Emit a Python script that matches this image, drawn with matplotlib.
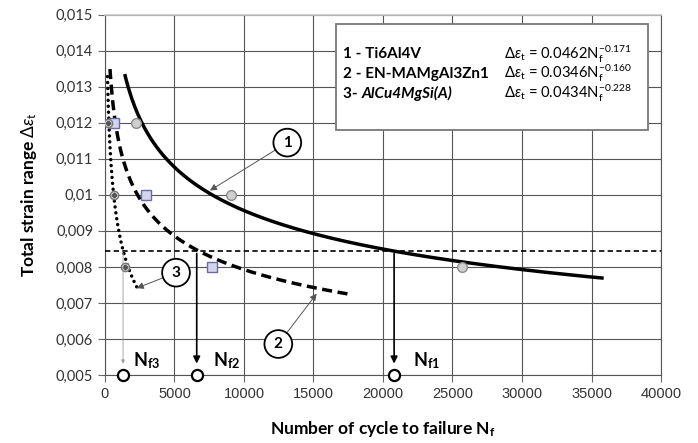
import numpy as np
import matplotlib
matplotlib.use("Agg")
import matplotlib.pyplot as plt
from matplotlib.patches import Rectangle

plt.rcParams['font.family'] = ['Lato', 'DejaVu Sans']
plt.rcParams['mathtext.fontset'] = 'custom'
plt.rcParams['mathtext.rm'] = 'Lato'
plt.rcParams['mathtext.it'] = 'Lato:italic'
plt.rcParams['mathtext.bf'] = 'Lato:bold'

# fitted curves: delta_eps = a * N^b (values from the legend box)
coef_a = [0.0462, 0.0346, 0.0434]
coef_b = [-0.171, -0.160, -0.228]
n_start = [1450, 360, 180]
n_end = [35750, 17750, 2400]

# test points
ti_n = [2230, 9060, 25700]
ti_eps = [0.012, 0.010, 0.008]
mg_n = [670, 2950, 7680]
mg_eps = [0.012, 0.010, 0.008]
al_n = [240, 650, 1440]
al_eps = [0.012, 0.010, 0.008]

# strain level used for comparison and resulting lives
eps_level = 0.00845
nf_values = [20800, 6600, 1300]
nf_names = [r"$\mathbf{N}_\mathbf{f1}$", r"$\mathbf{N}_\mathbf{f2}$", r"$\mathbf{N}_\mathbf{f3}$"]

yticks = [0.005, 0.006, 0.007, 0.008, 0.009, 0.01, 0.011, 0.012, 0.013, 0.014, 0.015]
ytick_labels = ["0,005", "0,006", "0,007", "0,008", "0,009", "0,01",
                "0,011", "0,012", "0,013", "0,014", "0,015"]
xticks = [0, 5000, 10000, 15000, 20000, 25000, 30000, 35000, 40000]

fig = plt.figure(figsize=(6.98, 4.43), dpi=100)
ax = fig.add_axes([0.1504, 0.1535, 0.7966, 0.8133])
ax.set_xlim(0, 40000)
ax.set_ylim(0.005, 0.015)

ax.set_yticks(yticks)
ax.set_yticklabels(ytick_labels, fontsize=10.5, color="#333333")
ax.set_xticks(xticks)
ax.set_xticklabels([str(x) for x in xticks], fontsize=10.5, color="#333333",
                   family=["Liberation Sans"])
ax.tick_params(axis="both", direction="out", length=5, width=0.8, color="#666666")
ax.grid(True, color="#555555", lw=0.8)
ax.set_axisbelow(True)
for s in ["left", "bottom", "right"]:
    ax.spines[s].set_color("#555555")
    ax.spines[s].set_linewidth(0.8)
ax.spines["top"].set_color("#c8c8c8")
ax.spines["top"].set_linewidth(1.2)

# horizontal reference strain
ax.plot([0, 40000], [eps_level, eps_level], color="black", lw=1.2,
        dashes=(3.2, 2), zorder=3)

# curves
styles = [dict(ls="-"),
          dict(dashes=(2.9, 1.6)),
          dict(ls=(0, (0.01, 1.7)), dash_capstyle="round")]
for a, b, n0, n1, st in zip(coef_a, coef_b, n_start, n_end, styles):
    n = np.linspace(n0, n1, 300)
    ax.plot(n, a * n ** b, color="black", lw=2.5, zorder=4, **st)

# test points
ax.plot(ti_n, ti_eps, "o", ms=7, mfc="#cfcfcf", mec="#8a8a8a", mew=1, zorder=5)
ax.plot(mg_n, mg_eps, "s", ms=7, mfc="#d4d4ee", mec="#6a6aaa", mew=1, zorder=5)
ax.plot(al_n, al_eps, "o", ms=6, mfc="#e0e0e0", mec="#777777", mew=1, zorder=5)
ax.plot(al_n, al_eps, "D", ms=2.5, mfc="#555555", mec="#555555", zorder=6)

# lives at the reference strain
for i, nf in enumerate(nf_values):
    if i < 2:
        ax.annotate("", xy=(nf, 0.00524), xytext=(nf, eps_level),
                    arrowprops=dict(arrowstyle="-|>", color="black", lw=1.2,
                                    mutation_scale=10), zorder=6)
    else:
        ax.annotate("", xy=(nf, 0.00524), xytext=(nf, eps_level),
                    arrowprops=dict(arrowstyle="-|>", color="#999999", lw=0.6,
                                    mutation_scale=5), zorder=6)
ax.plot(nf_values, [0.005] * 3, "o", ms=8, mfc="white", mec="black", mew=1.6,
        clip_on=False, zorder=7)
label_x = [22150, 7750, 2050]
for nm, lx in zip(nf_names, label_x):
    ax.text(lx, 0.0054, nm, fontsize=13, va="center", ha="left")

# circled curve numbers with pointers
circles = [("1", (13115, 0.01145), (7550, 0.01012)),
           ("2", (12470, 0.00586), (15230, 0.00726)),
           ("3", (5110, 0.00784), (2280, 0.00741))]
for num, c, tip in circles:
    ax.annotate(num, xy=tip, xytext=c, fontsize=11, fontweight="bold",
                ha="center", va="center", zorder=8,
                bbox=dict(boxstyle="circle,pad=0.45", fc="white", ec="black", lw=1.3),
                arrowprops=dict(arrowstyle="-|>", color="#555555", lw=0.7,
                                mutation_scale=10, shrinkA=0, shrinkB=0))

# equation box
ax.add_patch(Rectangle((16620, 0.0118), 39060 - 16620, 0.01474 - 0.0118,
                       fc="white", ec="#777777", lw=1.3, zorder=9))
rows_y = [0.01391, 0.01336, 0.01281]
names = ["1 - Ti6Al4V", "2 - EN-MAMgAl3Zn1", "3- "]
eqs = [r"$\Delta\varepsilon_\mathrm{t}$ = 0.0462N$_\mathrm{f}^{-0.171}$",
       r"$\Delta\varepsilon_\mathrm{t}$ = 0.0346N$_\mathrm{f}^{-0.160}$",
       r"$\Delta\varepsilon_\mathrm{t}$ = 0.0434N$_\mathrm{f}^{-0.228}$"]
for yy, nm, eq in zip(rows_y, names, eqs):
    t = ax.text(17150, yy, nm, fontsize=11, fontweight="bold", va="center", zorder=10)
    ax.text(28700, yy, eq, fontsize=10.6, va="center", zorder=10)
ax.annotate("AlCu4MgSi(A)", xy=(1, 0.5), xycoords=t, va="center", ha="left",
            fontsize=11, fontweight="bold", fontstyle="italic", zorder=10)

ax.set_xlabel(r"Number of cycle to failure N$_\mathbf{f}$", fontsize=12.5,
              fontweight="bold", labelpad=13)
ax.set_ylabel(r"Total strain range $\Delta\varepsilon_\mathrm{t}$", fontsize=12.5,
              fontweight="bold", labelpad=12)

fig.savefig("out.png", dpi=100)
